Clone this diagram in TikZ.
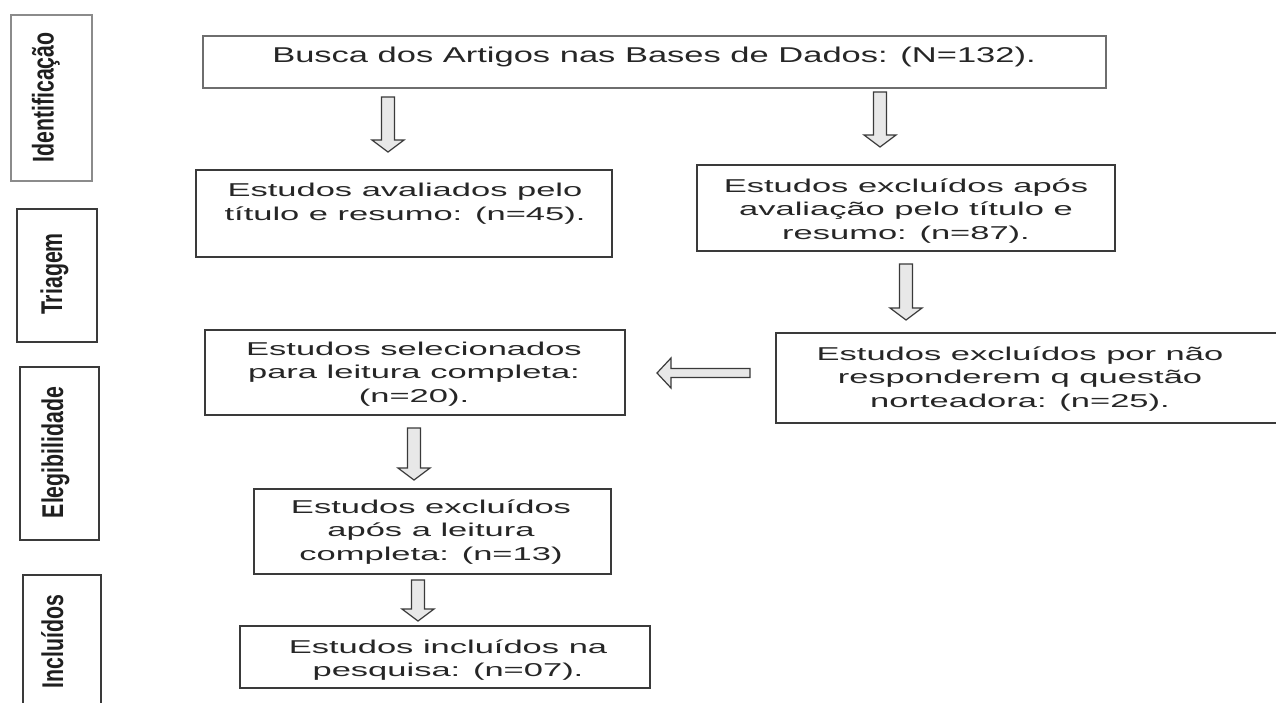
\documentclass[tikz,border=0pt]{standalone}
\usepackage{fontspec}
\usepackage{graphicx}
\setmainfont{Liberation Sans}
\usetikzlibrary{calc}
\definecolor{ln}{HTML}{3A3A3A}
\definecolor{lg}{HTML}{6E6E6E}
\definecolor{tx}{HTML}{262626}
\definecolor{af}{HTML}{E8E8E8}
\newcommand\btxt[1]{\scalebox{1.855}[1]{\fontsize{18.6}{23.5}\selectfont\begin{tabular}[t]{@{}c@{}}#1\end{tabular}}}
\newcommand\ttxt[1]{\scalebox{1.612}[1]{\fontsize{21.4}{25}\selectfont #1}}
\newcommand\lbl[1]{\scalebox{0.71}[1]{\fontsize{30}{32}\selectfont\bfseries #1}}
\newcommand\darrow[2]{\filldraw[arr] let \p1=(#1), \p2=(#2) in
  (\x1-6.5pt,\y1) -- (\x1+6.5pt,\y1) -- (\x1+6.5pt,\y2+12pt) -- (\x1+16pt,\y2+12pt)
  -- (\x1,\y2) -- (\x1-16pt,\y2+12pt) -- (\x1-6.5pt,\y2+12pt) -- cycle;}
\newcommand\larrow[2]{\filldraw[arr] let \p1=(#1), \p2=(#2) in
  (\x1,\y1+4.5pt) -- (\x2+14pt,\y1+4.5pt) -- (\x2+14pt,\y1+15pt) -- (\x2,\y1)
  -- (\x2+14pt,\y1-15pt) -- (\x2+14pt,\y1-4.5pt) -- (\x1,\y1-4.5pt) -- cycle;}
\begin{document}
\begin{tikzpicture}[x=1pt,y=-1pt,
  box/.style={draw=ln, line width=1.6pt, rectangle, inner sep=0pt, outer sep=0pt},
  topbox/.style={box, draw=lg, line width=1.4pt},
  lblbox/.style={box, line width=1.4pt},
  lblboxa/.style={box, draw=lg!80, line width=2.4pt},
  txt/.style={text=tx, inner sep=0pt, anchor=base},
  ltxt/.style={text=black!88, inner sep=0pt, anchor=base, rotate=90},
  arr/.style={draw=ln, fill=af, line width=1.2pt, line join=miter}]
\useasboundingbox (0,0) rectangle (1276,702);
\fill[white] (0,0) rectangle (1276,702);

% phase label boxes
\node[lblboxa, minimum width=81pt, minimum height=166pt] (L1) at (51.5,98) {};
\node[lblbox, minimum width=80pt, minimum height=133pt] (L2) at (57,275.5) {};
\node[lblbox, minimum width=79pt, minimum height=173pt] (L3) at (59.5,453.5) {};
\node[lblbox, minimum width=78pt, minimum height=145pt] (L4) at (62,647.5) {};
\node[ltxt] (l1) at (53.5,97.5) {\lbl{Identificação}};
\node[ltxt] (l2) at (62,274) {\lbl{Triagem}};
\node[ltxt] (l3) at (63,452.5) {\lbl{Elegibilidade}};
\node[ltxt] (l4) at (63,641.5) {\lbl{Incluídos}};

% flow boxes
\node[topbox, minimum width=903pt, minimum height=52pt] (top) at (654.5,62) {};
\node[box, minimum width=416pt, minimum height=87pt] (b2) at (404,213.5) {};
\node[box, minimum width=418pt, minimum height=86pt] (b3) at (906,208) {};
\node[box, minimum width=420pt, minimum height=85pt] (b4) at (415,372.5) {};
\node[box, minimum width=514pt, minimum height=90pt] (b5) at (1033,378) {};
\node[box, minimum width=357pt, minimum height=85pt] (b6) at (432.5,531.5) {};
\node[box, minimum width=410pt, minimum height=62pt] (b7) at (445,657) {};

\node[txt] (ttop) at (654,62.7) {\ttxt{Busca dos Artigos nas Bases de Dados: (N=132).}};
\node[txt] (t2) at (405,196.5) {\btxt{Estudos avaliados pelo\\título e resumo: (n=45).}};
\node[txt] (t3) at (906,192) {\btxt{Estudos excluídos após\\avaliação pelo título e\\resumo: (n=87).}};
\node[txt] (t4) at (414,355) {\btxt{Estudos selecionados\\para leitura completa:\\(n=20).}};
\node[txt] (t5) at (1020,360) {\btxt{Estudos excluídos por não\\responderem q questão\\norteadora: (n=25).}};
\node[txt] (t6) at (431,513) {\btxt{Estudos excluídos\\após a leitura\\completa: (n=13)}};
\node[txt] (t7) at (448,653) {\btxt{Estudos incluídos na\\pesquisa: (n=07).}};

% block arrows
\coordinate (a1s) at (388,97);  \coordinate (a1e) at (388,152);
\coordinate (a2s) at (880,92);  \coordinate (a2e) at (880,147);
\coordinate (a3s) at (906,264); \coordinate (a3e) at (906,320);
\coordinate (a4s) at (750,373); \coordinate (a4e) at (657,373);
\coordinate (a5s) at (414,428); \coordinate (a5e) at (414,480);
\coordinate (a6s) at (418,580); \coordinate (a6e) at (418,621);
\darrow{a1s}{a1e}
\darrow{a2s}{a2e}
\darrow{a3s}{a3e}
\larrow{a4s}{a4e}
\darrow{a5s}{a5e}
\darrow{a6s}{a6e}
\end{tikzpicture}
\end{document}
